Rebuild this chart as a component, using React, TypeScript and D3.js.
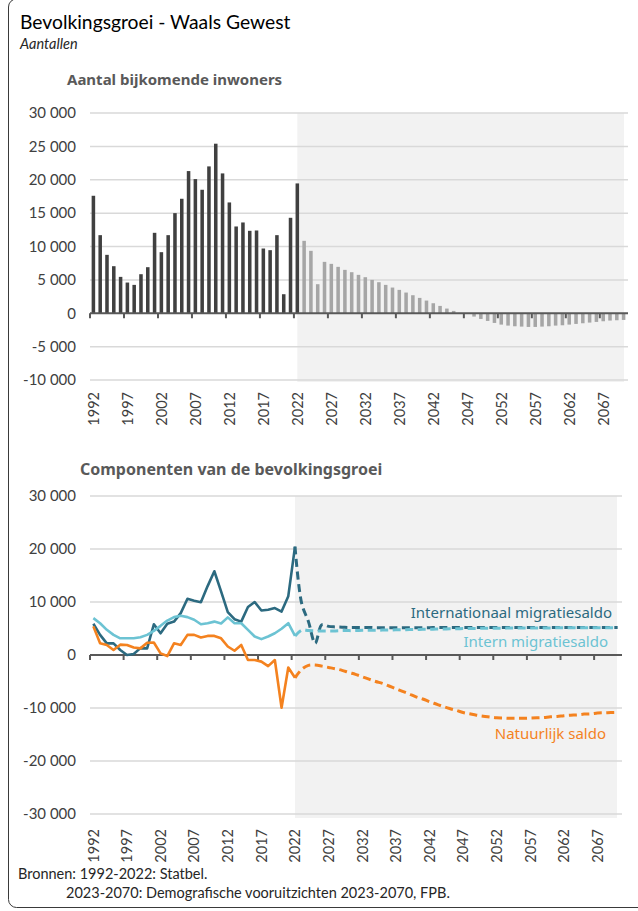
import React from 'react';
import * as d3 from 'd3';

// categories
const firstYear = 1992;
const lastYear = 2070;
const years = d3.range(firstYear, lastYear + 1);
const tickYears = [1992, 1997, 2002, 2007, 2012, 2017, 2022, 2027, 2032, 2037, 2042, 2047, 2052, 2057, 2062, 2067];
const lastObserved = 2022;

// top chart: aantal bijkomende inwoners
const growthObserved = [17600, 11700, 8750, 7050, 5450, 4600, 4250, 5850, 6900, 12050, 9150, 11700, 15000, 17150, 21300, 20100, 18500, 22000, 25400, 20950, 16600, 13000, 13600, 12350, 12400, 9700, 9450, 11700, 2850, 14300, 19450];
const growthProjected = [10850, 9350, 4350, 7700, 7400, 6950, 6500, 6150, 5750, 5400, 5000, 4650, 4250, 3850, 3500, 3100, 2700, 2300, 1900, 1500, 1100, 700, 350, 50, -100, -500, -850, -1150, -1450, -1700, -1850, -1950, -2000, -2050, -2050, -2000, -1950, -1850, -1800, -1700, -1600, -1500, -1400, -1300, -1200, -1100, -1050, -1000];

// bottom chart: componenten
const intlObserved = [5900, 3800, 2200, 2200, 950, 0, 200, 1300, 1250, 5800, 4100, 5900, 6300, 7900, 10600, 10250, 9950, 13000, 15800, 12000, 8100, 6750, 6300, 9050, 10000, 8400, 8550, 8850, 8200, 11100, 20450];
const intlProjected = [9700, 6300, 2200, 5700, 5400, 5300, 5250, 5200, 5200, 5200, 5200, 5150, 5150, 5150, 5150, 5150, 5150, 5150, 5150, 5150, 5200, 5200, 5200, 5200, 5200, 5200, 5200, 5200, 5200, 5200, 5200, 5200, 5200, 5200, 5200, 5200, 5200, 5200, 5200, 5200, 5200, 5200, 5200, 5200, 5200, 5200, 5200, 5200];
const internObserved = [6950, 6000, 4750, 3800, 3150, 3150, 3150, 3350, 3800, 4550, 5500, 6500, 7150, 7400, 7150, 6650, 5800, 6000, 6300, 5950, 7100, 6000, 6000, 4750, 3500, 3000, 3500, 4100, 4950, 6000, 3600];
const internProjected = [4700, 4600, 4550, 4550, 4550, 4550, 4600, 4600, 4600, 4650, 4650, 4650, 4700, 4700, 4750, 4750, 4800, 4800, 4850, 4850, 4900, 4900, 4950, 4950, 5000, 5000, 5000, 5050, 5050, 5050, 5050, 5100, 5100, 5100, 5100, 5100, 5100, 5100, 5150, 5150, 5150, 5150, 5150, 5150, 5150, 5150, 5150, 5150];
const naturalObserved = [5400, 2200, 1900, 950, 1950, 1900, 1400, 1250, 2300, 2350, 300, -200, 2200, 1900, 3800, 3800, 3300, 3600, 3600, 3150, 1600, 800, 1900, -950, -950, -1250, -2100, -950, -9950, -2350, -4300];
const naturalProjected = [-2700, -1950, -1900, -2100, -2350, -2600, -2900, -3300, -3650, -4100, -4550, -5000, -5350, -5850, -6350, -6850, -7350, -7900, -8300, -8800, -9250, -9700, -10100, -10450, -10850, -11100, -11350, -11550, -11700, -11850, -11900, -11950, -11950, -11950, -11900, -11850, -11800, -11650, -11600, -11450, -11350, -11300, -11150, -11100, -10950, -10900, -10850, -10800];

const seriesNames = ['Internationaal migratiesaldo', 'Intern migratiesaldo', 'Natuurlijk saldo'];
const seriesColors = ['#2c6a80', '#6cc3d3', '#f4821f'];

const fmt = d3.formatLocale({ decimal: ',', thousands: ' ', grouping: [3], currency: ['', ''], minus: '-' }).format(',d');

const tickFont = 'Lato, "Noto Sans", sans-serif';
const titleFont = '"Noto Sans", "DejaVu Sans", sans-serif';

type Pt = { year: number; value: number };
const toPts = (vals: number[], start: number): Pt[] => vals.map((v, i) => ({ year: start + i, value: v }));

const XAxis = ({ x, y0, labelTop }: { x: d3.ScaleBand<number>; y0: number; labelTop: number }) => {
  const [r0, r1] = x.range();
  return (
    <g>
      <line x1={r0} x2={r1 + 1} y1={y0} y2={y0} stroke="#595959" strokeWidth={2} />
      {tickYears.map((yr) => (
        <line key={yr} x1={x(yr)!} x2={x(yr)!} y1={y0} y2={y0 + 5} stroke="#595959" strokeWidth={2} />
      ))}
      {tickYears.map((yr) => {
        const cx = x(yr)! + x.bandwidth() / 2 + 5.3;
        return (
          <text key={yr} transform={`translate(${cx},${labelTop}) rotate(-90)`} textAnchor="end"
            fontFamily={tickFont} fontSize={14.5} fill="#404040">{yr}</text>
        );
      })}
    </g>
  );
};

const Grid = ({ x, y, ticks }: { x: d3.ScaleBand<number>; y: d3.ScaleLinear<number, number>; ticks: number[] }) => {
  const [r0, r1] = x.range();
  return (
    <g>
      {ticks.map((t) => (
        <g key={t}>
          {t !== 0 && <line x1={r0} x2={r1 + 1} y1={y(t)} y2={y(t)} stroke="#d9d9d9" strokeWidth={1.5} />}
          <text x={76} y={y(t)} dy="0.35em" textAnchor="end" fontFamily={tickFont} fontSize={15} fill="#404040">{fmt(t)}</text>
        </g>
      ))}
    </g>
  );
};

export default function App() {
  // top chart scales
  const xTop = d3.scaleBand<number>().domain(years).range([90, 627]);
  const yTop = d3.scaleLinear().domain([-10000, 30000]).range([380, 113]);
  const topTicks = yTop.ticks(8);
  const barW = xTop.bandwidth() * 0.52;

  // bottom chart scales
  const xBot = d3.scaleBand<number>().domain(years).range([90, 621]);
  const yBot = d3.scaleLinear().domain([-30000, 30000]).range([814, 496]);
  const botTicks = yBot.ticks(6);

  const cx = (yr: number) => xBot(yr)! + xBot.bandwidth() / 2;
  const line = d3.line<Pt>().x((d) => cx(d.year)).y((d) => yBot(d.value));
  const lineSmooth = d3.line<Pt>().x((d) => cx(d.year)).y((d) => yBot(d.value)).curve(d3.curveCatmullRom.alpha(0.5));

  const observed = [intlObserved, internObserved, naturalObserved];
  const projected = [intlProjected, internProjected, naturalProjected];

  const shadeTopX = xTop(lastObserved)! + xTop.bandwidth() / 2;
  const shadeBotX = cx(lastObserved);

  const bars = [
    ...toPts(growthObserved, firstYear).map((d) => ({ ...d, fill: '#404040' })),
    ...toPts(growthProjected, lastObserved + 1).map((d) => ({ ...d, fill: '#a6a6a6' })),
  ];

  return (
    <div style={{ position: 'absolute', left: 0, top: 0 }}>
      <svg width={638} height={911} style={{ display: 'block' }}>
        <path d="M 60 -1 H 16.5 A 8 8 0 0 0 8.5 7 V 899.5 A 8 8 0 0 0 16.5 907.5 H 700" fill="none" stroke="#3a3a3a" strokeWidth={1} />

        <text x={20} y={29} fontFamily={tickFont} fontSize={19.3} fill="#000">Bevolkingsgroei - Waals Gewest</text>
        <text x={20} y={49} fontFamily={tickFont} fontSize={14.5} fontStyle="italic" fill="#262626">Aantallen</text>

        {/* top chart */}
        <text x={67} y={85} fontFamily={titleFont} fontSize={15} fontWeight="bold" fill="#595959">Aantal bijkomende inwoners</text>
        <rect x={shadeTopX} y={yTop(30000)} width={xTop.range()[1] - 3 - shadeTopX} height={yTop(-10000) - yTop(30000) + 2} fill="#f2f2f2" />
        <Grid x={xTop} y={yTop} ticks={topTicks} />
        {bars.map((d) => (
          <rect key={d.year} x={xTop(d.year)! + (xTop.bandwidth() - barW) / 2} width={barW}
            y={Math.min(yTop(d.value), yTop(0))} height={Math.abs(yTop(d.value) - yTop(0))} fill={d.fill} />
        ))}
        <XAxis x={xTop} y0={yTop(0)} labelTop={392} />

        {/* bottom chart */}
        <text x={80} y={475} fontFamily={titleFont} fontSize={16} fontWeight="bold" fill="#595959">Componenten van de bevolkingsgroei</text>
        <rect x={shadeBotX} y={yBot(30000)} width={xBot.range()[1] - 4 - shadeBotX} height={yBot(-30000) - yBot(30000) + 4} fill="#f2f2f2" />
        <Grid x={xBot} y={yBot} ticks={botTicks} />
        <XAxis x={xBot} y0={yBot(0)} labelTop={829} />
        {observed.map((vals, i) => (
          <path key={'o' + i} d={line(toPts(vals, firstYear))!} fill="none" stroke={seriesColors[i]} strokeWidth={2.6} strokeLinejoin="round" />
        ))}
        {projected.map((vals, i) => (
          <path key={'p' + i} d={lineSmooth([{ year: lastObserved, value: observed[i][observed[i].length - 1] }, ...toPts(vals, lastObserved + 1)])!}
            fill="none" stroke={seriesColors[i]} strokeWidth={3} strokeDasharray="8 4.5" />
        ))}
        <text x={612} y={618} textAnchor="end" fontFamily={titleFont} fontSize={15} fill={seriesColors[0]}>{seriesNames[0]}</text>
        <text x={608} y={647} textAnchor="end" fontFamily={titleFont} fontSize={15} fill={seriesColors[1]}>{seriesNames[1]}</text>
        <text x={606} y={739} textAnchor="end" fontFamily={titleFont} fontSize={15} fill={seriesColors[2]}>{seriesNames[2]}</text>

        <text x={18} y={879} fontFamily={tickFont} fontSize={14.5} fill="#262626">Bronnen: 1992-2022: Statbel.</text>
        <text x={66} y={898} fontFamily={tickFont} fontSize={14.5} fill="#262626">2023-2070: Demografische vooruitzichten 2023-2070, FPB.</text>
      </svg>
    </div>
  );
}
